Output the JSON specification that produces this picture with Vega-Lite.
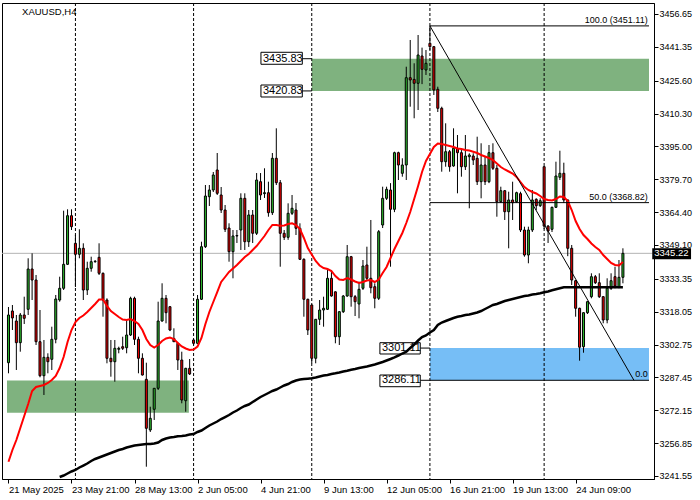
{
"$schema": "https://vega.github.io/schema/vega-lite/v6.json",
"width": 652, "height": 476,
"autosize": {"type": "none"},
"padding": {"left": 2, "top": 3, "right": 46, "bottom": 21},
"background": "white",
"config": {"view": {"stroke": "black", "strokeWidth": 1}, "font": "Liberation Sans",
  "axis": {"grid": false, "labelFont": "Liberation Sans", "labelColor": "black", "tickColor": "black", "domainColor": "black", "labelFlush": false, "labelOverlap": false}},
"datasets": {
"candles": [
{"i":0,"o":3294.30,"h":3320.23,"l":3289.36,"c":3316.51,"ma":3248.20},
{"i":1,"o":3318.37,"h":3321.16,"l":3309.52,"c":3315.11,"ma":3253.65},
{"i":2,"o":3313.71,"h":3316.51,"l":3290.90,"c":3303.61,"ma":3258.31},
{"i":3,"o":3303.61,"h":3317.44,"l":3299.42,"c":3316.51,"ma":3263.89},
{"i":4,"o":3316.51,"h":3325.03,"l":3312.32,"c":3314.97,"ma":3269.48},
{"i":5,"o":3319.16,"h":3342.91,"l":3316.51,"c":3337.92,"ma":3275.07},
{"i":6,"o":3337.92,"h":3345.23,"l":3323.49,"c":3332.80,"ma":3281.12},
{"i":7,"o":3332.80,"h":3335.13,"l":3302.54,"c":3304.07,"ma":3282.98},
{"i":8,"o":3304.07,"h":3318.83,"l":3287.50,"c":3288.24,"ma":3283.45},
{"i":9,"o":3288.24,"h":3304.87,"l":3279.26,"c":3296.81,"ma":3283.91},
{"i":10,"o":3296.81,"h":3298.67,"l":3289.36,"c":3294.76,"ma":3284.85},
{"i":11,"o":3295.88,"h":3311.06,"l":3290.90,"c":3305.19,"ma":3286.24},
{"i":12,"o":3305.19,"h":3325.82,"l":3303.33,"c":3323.96,"ma":3288.10},
{"i":13,"o":3323.49,"h":3334.34,"l":3322.70,"c":3328.94,"ma":3291.83,"mb":3241.08},
{"i":14,"o":3328.94,"h":3365.07,"l":3328.15,"c":3340.11,"ma":3296.95,"mb":3241.78},
{"i":15,"o":3340.11,"h":3365.72,"l":3339.79,"c":3362.74,"ma":3303.93,"mb":3242.71},
{"i":16,"o":3362.74,"h":3365.72,"l":3356.08,"c":3357.62,"ma":3309.52,"mb":3243.64},
{"i":17,"o":3349.89,"h":3353.75,"l":3329.54,"c":3344.77,"ma":3313.25,"mb":3244.34},
{"i":18,"o":3344.77,"h":3356.41,"l":3342.91,"c":3347.56,"ma":3315.11,"mb":3245.50},
{"i":19,"o":3347.56,"h":3349.89,"l":3323.49,"c":3328.15,"ma":3316.27,"mb":3246.43},
{"i":20,"o":3328.15,"h":3341.32,"l":3325.82,"c":3338.25,"ma":3317.90,"mb":3247.36},
{"i":21,"o":3338.25,"h":3343.65,"l":3336.67,"c":3341.32,"ma":3319.77,"mb":3248.53},
{"i":22,"o":3341.32,"h":3342.11,"l":3340.86,"c":3341.50,"ma":3321.63,"mb":3249.46},
{"i":23,"o":3343.37,"h":3349.89,"l":3335.13,"c":3335.92,"ma":3323.72,"mb":3250.16},
{"i":24,"o":3335.92,"h":3336.30,"l":3315.72,"c":3323.49,"ma":3323.72,"mb":3250.86},
{"i":25,"o":3323.49,"h":3324.28,"l":3294.02,"c":3296.35,"ma":3320.70,"mb":3251.55},
{"i":26,"o":3296.35,"h":3304.87,"l":3287.78,"c":3294.76,"ma":3318.37,"mb":3252.25},
{"i":27,"o":3294.76,"h":3304.87,"l":3285.45,"c":3301.00,"ma":3316.97,"mb":3252.95},
{"i":28,"o":3300.54,"h":3301.75,"l":3298.67,"c":3301.00,"ma":3315.57,"mb":3253.65},
{"i":29,"o":3301.75,"h":3306.40,"l":3300.21,"c":3301.00,"ma":3314.41,"mb":3254.12},
{"i":30,"o":3301.28,"h":3314.18,"l":3298.67,"c":3307.19,"ma":3314.18,"mb":3254.81},
{"i":31,"o":3307.19,"h":3325.03,"l":3306.73,"c":3324.28,"ma":3314.64,"mb":3255.28},
{"i":32,"o":3324.28,"h":3325.03,"l":3302.54,"c":3305.19,"ma":3313.71,"mb":3255.75},
{"i":33,"o":3305.19,"h":3306.40,"l":3289.36,"c":3296.35,"ma":3312.32,"mb":3255.98},
{"i":34,"o":3296.35,"h":3298.67,"l":3288.30,"c":3288.57,"ma":3309.52,"mb":3256.21},
{"i":35,"o":3286.57,"h":3294.30,"l":3245.87,"c":3263.75,"ma":3305.33,"mb":3256.44},
{"i":36,"o":3262.96,"h":3273.81,"l":3262.03,"c":3268.41,"ma":3302.54,"mb":3256.44},
{"i":37,"o":3272.60,"h":3282.50,"l":3267.62,"c":3282.38,"ma":3301.37,"mb":3256.68},
{"i":38,"o":3282.38,"h":3322.70,"l":3281.59,"c":3313.71,"ma":3302.54,"mb":3257.14},
{"i":39,"o":3313.71,"h":3331.27,"l":3313.39,"c":3324.28,"ma":3304.40,"mb":3258.31},
{"i":40,"o":3324.28,"h":3325.82,"l":3312.64,"c":3317.58,"ma":3305.56,"mb":3259.00},
{"i":41,"o":3320.37,"h":3320.60,"l":3309.00,"c":3309.52,"ma":3306.03,"mb":3259.47},
{"i":42,"o":3305.60,"h":3310.31,"l":3304.00,"c":3304.07,"ma":3305.33,"mb":3259.70},
{"i":43,"o":3303.33,"h":3303.60,"l":3290.90,"c":3295.55,"ma":3303.47,"mb":3260.03},
{"i":44,"o":3295.55,"h":3299.42,"l":3275.39,"c":3276.93,"ma":3301.84,"mb":3260.17},
{"i":45,"o":3276.60,"h":3291.90,"l":3271.48,"c":3291.69,"ma":3300.91,"mb":3260.40},
{"i":46,"o":3291.69,"h":3296.02,"l":3288.57,"c":3289.04,"ma":3300.21,"mb":3260.87},
{"i":47,"o":3304.87,"h":3305.10,"l":3302.54,"c":3303.33,"ma":3300.44,"mb":3261.10},
{"i":48,"o":3303.33,"h":3325.82,"l":3303.00,"c":3323.82,"ma":3301.84,"mb":3262.03},
{"i":49,"o":3323.82,"h":3350.63,"l":3323.49,"c":3348.31,"ma":3305.80,"mb":3262.73},
{"i":50,"o":3348.31,"h":3377.03,"l":3347.70,"c":3371.91,"ma":3312.32,"mb":3263.89},
{"i":51,"o":3371.59,"h":3377.03,"l":3367.26,"c":3374.71,"ma":3317.90,"mb":3265.06},
{"i":52,"o":3374.71,"h":3383.09,"l":3373.77,"c":3381.69,"ma":3322.56,"mb":3265.99},
{"i":53,"o":3384.02,"h":3391.93,"l":3372.38,"c":3373.17,"ma":3327.21,"mb":3266.92},
{"i":54,"o":3372.38,"h":3376.10,"l":3364.00,"c":3365.39,"ma":3331.87,"mb":3268.08},
{"i":55,"o":3365.39,"h":3367.72,"l":3355.15,"c":3356.41,"ma":3334.20,"mb":3269.01},
{"i":56,"o":3357.01,"h":3359.20,"l":3341.32,"c":3345.98,"ma":3336.53,"mb":3269.95},
{"i":57,"o":3345.98,"h":3356.08,"l":3333.59,"c":3353.29,"ma":3338.16,"mb":3271.11},
{"i":58,"o":3353.29,"h":3356.08,"l":3350.03,"c":3353.50,"ma":3339.79,"mb":3272.04},
{"i":59,"o":3356.08,"h":3373.17,"l":3346.77,"c":3370.84,"ma":3341.65,"mb":3273.21},
{"i":60,"o":3370.84,"h":3373.17,"l":3346.77,"c":3350.63,"ma":3343.51,"mb":3274.14},
{"i":61,"o":3350.63,"h":3365.39,"l":3348.20,"c":3363.07,"ma":3344.91,"mb":3274.83},
{"i":62,"o":3363.07,"h":3365.39,"l":3350.03,"c":3354.55,"ma":3346.77,"mb":3276.00},
{"i":63,"o":3354.55,"h":3382.60,"l":3353.75,"c":3379.36,"ma":3348.63,"mb":3277.16},
{"i":64,"o":3378.57,"h":3382.60,"l":3370.05,"c":3372.38,"ma":3350.96,"mb":3278.33},
{"i":65,"o":3373.00,"h":3384.81,"l":3371.00,"c":3373.45,"ma":3353.29,"mb":3279.26},
{"i":66,"o":3373.45,"h":3378.57,"l":3362.27,"c":3364.14,"ma":3356.08,"mb":3280.19},
{"i":67,"o":3364.14,"h":3391.93,"l":3363.07,"c":3389.47,"ma":3358.41,"mb":3281.12},
{"i":68,"o":3389.47,"h":3403.43,"l":3377.03,"c":3378.10,"ma":3358.41,"mb":3281.82},
{"i":69,"o":3378.10,"h":3379.36,"l":3338.99,"c":3354.55,"ma":3358.08,"mb":3282.75},
{"i":70,"o":3354.55,"h":3356.08,"l":3351.43,"c":3352.68,"ma":3358.18,"mb":3283.68},
{"i":71,"o":3352.68,"h":3368.50,"l":3351.50,"c":3363.86,"ma":3358.88,"mb":3284.38},
{"i":72,"o":3363.86,"h":3372.38,"l":3363.07,"c":3366.19,"ma":3359.20,"mb":3285.31},
{"i":73,"o":3365.39,"h":3368.65,"l":3353.75,"c":3356.87,"ma":3358.41,"mb":3286.01},
{"i":74,"o":3356.87,"h":3359.20,"l":3342.11,"c":3342.44,"ma":3356.55,"mb":3286.47},
{"i":75,"o":3342.44,"h":3342.91,"l":3315.72,"c":3323.82,"ma":3352.36,"mb":3286.71},
{"i":76,"o":3323.82,"h":3324.10,"l":3307.19,"c":3309.52,"ma":3347.70,"mb":3286.85},
{"i":77,"o":3321.16,"h":3321.40,"l":3294.02,"c":3296.35,"ma":3344.67,"mb":3287.03},
{"i":78,"o":3296.35,"h":3314.60,"l":3294.02,"c":3314.50,"ma":3341.65,"mb":3287.41},
{"i":79,"o":3314.50,"h":3323.49,"l":3311.85,"c":3318.83,"ma":3339.55,"mb":3287.87},
{"i":80,"o":3318.83,"h":3325.03,"l":3311.06,"c":3319.63,"ma":3338.39,"mb":3288.34},
{"i":81,"o":3319.16,"h":3337.46,"l":3318.83,"c":3333.59,"ma":3337.92,"mb":3288.57},
{"i":82,"o":3333.59,"h":3337.46,"l":3325.03,"c":3325.35,"ma":3336.99,"mb":3289.04},
{"i":83,"o":3327.30,"h":3327.50,"l":3303.33,"c":3306.40,"ma":3334.66,"mb":3289.36},
{"i":84,"o":3306.40,"h":3318.30,"l":3302.54,"c":3318.04,"ma":3333.03,"mb":3289.73},
{"i":85,"o":3318.04,"h":3325.82,"l":3317.44,"c":3325.35,"ma":3332.80,"mb":3290.20},
{"i":86,"o":3325.35,"h":3349.10,"l":3325.00,"c":3343.65,"ma":3333.73,"mb":3290.57},
{"i":87,"o":3343.65,"h":3344.00,"l":3320.37,"c":3325.03,"ma":3333.03,"mb":3291.04},
{"i":88,"o":3325.03,"h":3325.82,"l":3316.04,"c":3322.70,"ma":3332.10,"mb":3291.36},
{"i":89,"o":3321.63,"h":3332.00,"l":3314.97,"c":3328.47,"ma":3331.41,"mb":3291.83},
{"i":90,"o":3328.94,"h":3342.11,"l":3328.15,"c":3339.32,"ma":3331.87,"mb":3292.16},
{"i":91,"o":3339.79,"h":3348.31,"l":3332.80,"c":3333.59,"ma":3332.57,"mb":3292.53},
{"i":92,"o":3333.59,"h":3360.74,"l":3326.61,"c":3329.22,"ma":3332.80,"mb":3292.99},
{"i":93,"o":3329.68,"h":3331.27,"l":3319.63,"c":3324.28,"ma":3331.87,"mb":3293.46},
{"i":94,"o":3324.28,"h":3356.08,"l":3323.49,"c":3355.29,"ma":3333.03,"mb":3294.02},
{"i":95,"o":3358.41,"h":3376.24,"l":3357.01,"c":3370.84,"ma":3336.06,"mb":3294.62},
{"i":96,"o":3370.84,"h":3376.24,"l":3370.05,"c":3375.03,"ma":3338.85,"mb":3295.32},
{"i":97,"o":3374.71,"h":3377.90,"l":3338.99,"c":3365.72,"ma":3343.05,"mb":3296.02},
{"i":98,"o":3365.72,"h":3392.54,"l":3364.40,"c":3392.07,"ma":3347.24,"mb":3296.81},
{"i":99,"o":3392.07,"h":3392.54,"l":3379.36,"c":3386.35,"ma":3350.96,"mb":3297.65},
{"i":100,"o":3382.48,"h":3389.47,"l":3380.90,"c":3386.35,"ma":3354.69,"mb":3298.58},
{"i":101,"o":3386.35,"h":3432.11,"l":3379.36,"c":3426.99,"ma":3359.34,"mb":3299.42},
{"i":102,"o":3426.99,"h":3444.55,"l":3413.49,"c":3425.92,"ma":3364.46,"mb":3301.14},
{"i":103,"o":3426.20,"h":3433.70,"l":3408.09,"c":3424.39,"ma":3370.52,"mb":3302.77},
{"i":104,"o":3424.39,"h":3446.87,"l":3411.95,"c":3437.56,"ma":3376.57,"mb":3304.63},
{"i":105,"o":3437.10,"h":3441.00,"l":3424.00,"c":3430.90,"ma":3383.09,"mb":3306.26},
{"i":106,"o":3430.58,"h":3439.89,"l":3428.25,"c":3433.70,"ma":3388.21,"mb":3306.96},
{"i":107,"o":3443.01,"h":3451.11,"l":3439.89,"c":3441.43,"ma":3391.47,"mb":3308.36},
{"i":108,"o":3441.43,"h":3441.75,"l":3418.94,"c":3421.27,"ma":3394.73,"mb":3309.52},
{"i":109,"o":3421.59,"h":3422.80,"l":3411.02,"c":3412.75,"ma":3396.36,"mb":3311.85},
{"i":110,"o":3412.75,"h":3413.49,"l":3383.23,"c":3387.88,"ma":3396.12,"mb":3313.01},
{"i":111,"o":3387.88,"h":3405.76,"l":3385.55,"c":3392.54,"ma":3395.66,"mb":3313.71},
{"i":112,"o":3392.54,"h":3393.33,"l":3383.23,"c":3385.55,"ma":3395.19,"mb":3314.41},
{"i":113,"o":3385.88,"h":3403.43,"l":3385.55,"c":3394.12,"ma":3394.73,"mb":3315.11},
{"i":114,"o":3394.12,"h":3400.31,"l":3373.17,"c":3392.07,"ma":3394.03,"mb":3315.67},
{"i":115,"o":3392.07,"h":3393.33,"l":3380.90,"c":3385.55,"ma":3393.80,"mb":3316.04},
{"i":116,"o":3385.55,"h":3400.31,"l":3384.02,"c":3390.54,"ma":3393.33,"mb":3316.51},
{"i":117,"o":3390.21,"h":3391.79,"l":3366.19,"c":3391.00,"ma":3393.10,"mb":3316.74},
{"i":118,"o":3390.54,"h":3391.79,"l":3386.35,"c":3388.67,"ma":3392.54,"mb":3317.20},
{"i":119,"o":3389.47,"h":3399.52,"l":3377.03,"c":3378.57,"ma":3391.93,"mb":3317.67},
{"i":120,"o":3378.57,"h":3396.45,"l":3370.84,"c":3386.35,"ma":3391.00,"mb":3318.37},
{"i":121,"o":3386.35,"h":3390.21,"l":3377.03,"c":3378.57,"ma":3390.30,"mb":3319.30},
{"i":122,"o":3378.57,"h":3395.66,"l":3377.90,"c":3392.07,"ma":3389.61,"mb":3320.23},
{"i":123,"o":3392.07,"h":3396.45,"l":3384.02,"c":3384.81,"ma":3388.67,"mb":3321.16},
{"i":124,"o":3384.81,"h":3386.35,"l":3362.27,"c":3369.26,"ma":3387.04,"mb":3321.63},
{"i":125,"o":3369.26,"h":3376.24,"l":3368.65,"c":3374.38,"ma":3385.41,"mb":3322.33},
{"i":126,"o":3374.38,"h":3374.71,"l":3360.74,"c":3364.60,"ma":3384.25,"mb":3323.02},
{"i":127,"o":3364.60,"h":3373.91,"l":3347.56,"c":3370.05,"ma":3383.32,"mb":3323.49},
{"i":128,"o":3370.05,"h":3378.57,"l":3360.74,"c":3368.79,"ma":3382.39,"mb":3323.96},
{"i":129,"o":3369.26,"h":3373.91,"l":3368.65,"c":3373.45,"ma":3380.76,"mb":3324.42},
{"i":130,"o":3373.00,"h":3373.91,"l":3355.15,"c":3356.08,"ma":3378.43,"mb":3324.89},
{"i":131,"o":3356.08,"h":3357.62,"l":3343.65,"c":3344.44,"ma":3376.10,"mb":3325.35},
{"i":132,"o":3344.44,"h":3357.62,"l":3340.58,"c":3356.08,"ma":3374.71,"mb":3325.59},
{"i":133,"o":3356.08,"h":3374.71,"l":3355.15,"c":3370.05,"ma":3373.77,"mb":3326.05},
{"i":134,"o":3370.38,"h":3370.84,"l":3365.39,"c":3367.40,"ma":3373.08,"mb":3326.28},
{"i":135,"o":3367.40,"h":3370.84,"l":3366.79,"c":3369.72,"ma":3371.91,"mb":3326.61},
{"i":136,"o":3385.55,"h":3385.80,"l":3356.50,"c":3357.90,"ma":3370.52,"mb":3327.08},
{"i":137,"o":3357.90,"h":3358.40,"l":3350.03,"c":3355.60,"ma":3370.05,"mb":3327.45},
{"i":138,"o":3356.41,"h":3366.93,"l":3355.15,"c":3366.65,"ma":3369.82,"mb":3328.01},
{"i":139,"o":3366.65,"h":3387.88,"l":3366.33,"c":3381.22,"ma":3370.52,"mb":3328.47},
{"i":140,"o":3380.62,"h":3393.00,"l":3379.36,"c":3382.48,"ma":3371.68,"mb":3328.94},
{"i":141,"o":3382.48,"h":3387.42,"l":3368.65,"c":3370.05,"ma":3371.45,"mb":3329.40},
{"i":142,"o":3370.05,"h":3370.30,"l":3343.90,"c":3347.56,"ma":3369.58,"mb":3329.40},
{"i":143,"o":3347.56,"h":3349.10,"l":3330.47,"c":3332.80,"ma":3365.39,"mb":3329.40},
{"i":144,"o":3332.48,"h":3332.80,"l":3315.72,"c":3319.63,"ma":3360.27,"mb":3329.40},
{"i":145,"o":3319.63,"h":3319.90,"l":3295.23,"c":3301.50,"ma":3356.55,"mb":3329.40},
{"i":146,"o":3301.75,"h":3317.80,"l":3298.95,"c":3317.58,"ma":3353.75,"mb":3329.40},
{"i":147,"o":3317.58,"h":3322.90,"l":3316.97,"c":3322.70,"ma":3351.89,"mb":3329.40},
{"i":148,"o":3325.03,"h":3335.92,"l":3324.28,"c":3334.34,"ma":3349.80,"mb":3329.40},
{"i":149,"o":3334.34,"h":3335.13,"l":3330.94,"c":3331.54,"ma":3348.17,"mb":3329.40},
{"i":150,"o":3331.54,"h":3335.92,"l":3324.42,"c":3325.03,"ma":3346.77,"mb":3329.40},
{"i":151,"o":3325.03,"h":3325.30,"l":3312.64,"c":3314.18,"ma":3344.44,"mb":3329.40},
{"i":152,"o":3314.18,"h":3333.59,"l":3312.64,"c":3328.94,"ma":3342.58,"mb":3329.40},
{"i":153,"o":3328.94,"h":3335.92,"l":3328.15,"c":3332.48,"ma":3340.72,"mb":3329.40},
{"i":154,"o":3334.34,"h":3338.99,"l":3328.94,"c":3330.01,"ma":3339.79,"mb":3329.40},
{"i":155,"o":3329.68,"h":3342.11,"l":3328.94,"c":3334.06,"ma":3339.55,"mb":3329.40},
{"i":156,"o":3334.06,"h":3347.56,"l":3331.27,"c":3345.22,"ma":3341.18,"mb":3329.40}
],
"zones": [
{"zone":"demand","i":-0.375,"i2":45.8,"p":3271.0,"p2":3286.0},
{"zone":"demand","i":77,"i2":162.625,"p":3420.83,"p2":3435.83},
{"zone":"target","i":107,"i2":162.625,"p":3286.11,"p2":3301.11}
],
"weeks": [{"i":17},{"i":47},{"i":77},{"i":107},{"i":136}],
"fib": [
{"i":107,"i2":162.625,"p":3451.11,"p2":3451.11},
{"i":107,"i2":162.625,"p":3368.82,"p2":3368.82},
{"i":107,"i2":162.625,"p":3286.11,"p2":3286.11}
],
"fibtrend": [{"i":107,"i2":158.8,"p":3451.11,"p2":3286.11}],
"fibtext": [
{"t":"100.0 (3451.11)","i":162.3,"v":3451.11},
{"t":"50.0 (3368.82)","i":162.3,"v":3368.82},
{"t":"0.0","i":162.3,"v":3286.11}
],
"connectors": [
{"i":74.6,"i2":77,"v":3435.83},
{"i":74.6,"i2":77,"v":3420.83},
{"i":104.55,"i2":107,"v":3301.11},
{"i":104.55,"i2":107,"v":3286.11}
],
"pricelabels": [
{"t":"3435.83","v":3435.83,"i":64.1,"i2":74.6,"lo":3433.24,"hi":3438.82},
{"t":"3420.83","v":3420.83,"i":64.1,"i2":74.6,"lo":3418.01,"hi":3423.59},
{"t":"3301.11","v":3301.11,"i":94.3,"i2":104.55,"lo":3298.35,"hi":3303.61},
{"t":"3286.11","v":3286.11,"i":94.3,"i2":104.55,"lo":3283.12,"hi":3288.57}
],
"bid": [{"t":"3345.22","v":3345.22,"i":163.45,"i2":173.3,"lo":3342.44,"hi":3347.56}],
"symbol": [{"t":"XAUUSD,H4","i":3.45,"v":3457.7}]
},
"layer": [
{"data":{"name":"zones"},"mark":{"type":"rect"},
 "encoding":{
  "x":{"field":"i","type":"quantitative","title":null,"scale":{"domain":[-0.375,162.625],"nice":false,"zero":false},
   "axis":{"orient":"bottom","values":[0,16,32,48,64,80,96,112,128,144],"tickCount":30,
    "labelExpr":"['21 May 2025','23 May 21:00','28 May 13:00','2 Jun 05:00','4 Jun 21:00','9 Jun 13:00','12 Jun 05:00','16 Jun 21:00','19 Jun 13:00','24 Jun 09:00'][round(datum.value/16)]",
    "labelAlign":"left","labelBaseline":"top","labelPadding":1,"labelFontSize":9.5,"labelFont":"Liberation Sans","labelColor":"black",
    "tickColor":"black","tickSize":4,"domainColor":"black","grid":false,"title":null,"labelFlush":false,"labelOverlap":false,"labelBound":false}},
  "x2":{"field":"i2"},
  "y":{"field":"p","type":"quantitative","title":null,"scale":{"domain":[3240.15,3461.77],"nice":false,"zero":false},
   "axis":{"orient":"right","values":[3241.55,3256.85,3272.15,3287.45,3302.75,3318.05,3333.35,3349.10,3364.40,3379.70,3395.00,3410.30,3425.60,3441.35,3456.65],"tickCount":30,
    "format":".2f","labelFontSize":9,"labelFont":"Liberation Sans","labelColor":"black","labelPadding":1,"labelBaseline":"middle",
    "tickColor":"black","tickSize":4,"domainColor":"black","grid":false,"title":null,"labelFlush":false,"labelOverlap":false,"labelBound":false}},
  "y2":{"field":"p2"},
  "color":{"field":"zone","type":"nominal","scale":{"domain":["demand","target"],"range":["#7FB27F","#76BEF6"]},"legend":null}}},
{"data":{"name":"bid"},"mark":{"type":"rule","color":"#B4B4B4","strokeWidth":1},
 "encoding":{"y":{"field":"v","type":"quantitative","title":null,"scale":{"domain":[3240.15,3461.77],"nice":false,"zero":false}}}},
{"data":{"name":"weeks"},"mark":{"type":"rule","color":"black","strokeWidth":1,"strokeDash":[3,2]},
 "encoding":{"x":{"field":"i","type":"quantitative","title":null,"scale":{"domain":[-0.375,162.625],"nice":false,"zero":false}}}},
{"data":{"name":"connectors"},"mark":{"type":"rule","color":"black","strokeWidth":1},
 "encoding":{
  "x":{"field":"i","type":"quantitative","title":null,"scale":{"domain":[-0.375,162.625],"nice":false,"zero":false}},
  "x2":{"field":"i2"},
  "y":{"field":"v","type":"quantitative","title":null,"scale":{"domain":[3240.15,3461.77],"nice":false,"zero":false}}}},
{"data":{"name":"pricelabels"},"mark":{"type":"rect","fill":"white","stroke":"black","strokeWidth":1},
 "encoding":{
  "x":{"field":"i","type":"quantitative","title":null,"scale":{"domain":[-0.375,162.625],"nice":false,"zero":false}},
  "x2":{"field":"i2"},
  "y":{"field":"lo","type":"quantitative","title":null,"scale":{"domain":[3240.15,3461.77],"nice":false,"zero":false}},
  "y2":{"field":"hi"}}},
{"data":{"name":"pricelabels"},"mark":{"type":"text","align":"left","baseline":"middle","dx":2,"fontSize":11,"font":"Liberation Sans","color":"black"},
 "encoding":{
  "x":{"field":"i","type":"quantitative","title":null,"scale":{"domain":[-0.375,162.625],"nice":false,"zero":false}},
  "y":{"field":"v","type":"quantitative","title":null,"scale":{"domain":[3240.15,3461.77],"nice":false,"zero":false}},
  "text":{"field":"t"}}},
{"data":{"name":"candles"},"mark":{"type":"rule","color":"black","strokeWidth":1},
 "encoding":{
  "x":{"field":"i","type":"quantitative","title":null,"scale":{"domain":[-0.375,162.625],"nice":false,"zero":false}},
  "y":{"field":"l","type":"quantitative","title":null,"scale":{"domain":[3240.15,3461.77],"nice":false,"zero":false}},
  "y2":{"field":"h"}}},
{"data":{"name":"candles"},"mark":{"type":"bar","width":2,"stroke":"black","strokeWidth":1},
 "encoding":{
  "x":{"field":"i","type":"quantitative","title":null,"scale":{"domain":[-0.375,162.625],"nice":false,"zero":false}},
  "y":{"field":"o","type":"quantitative","title":null,"scale":{"domain":[3240.15,3461.77],"nice":false,"zero":false}},
  "y2":{"field":"c"},
  "fill":{"condition":{"test":"datum.c >= datum.o","value":"#2DB82D"},"value":"#F00000"}}},
{"data":{"name":"candles"},"mark":{"type":"line","color":"#FF0000","strokeWidth":2},
 "encoding":{
  "x":{"field":"i","type":"quantitative","title":null,"scale":{"domain":[-0.375,162.625],"nice":false,"zero":false}},
  "y":{"field":"ma","type":"quantitative","title":null,"scale":{"domain":[3240.15,3461.77],"nice":false,"zero":false}}}},
{"data":{"name":"candles"},"transform":[{"filter":"isValid(datum.mb)"}],"mark":{"type":"line","color":"black","strokeWidth":2.5},
 "encoding":{
  "x":{"field":"i","type":"quantitative","title":null,"scale":{"domain":[-0.375,162.625],"nice":false,"zero":false}},
  "y":{"field":"mb","type":"quantitative","title":null,"scale":{"domain":[3240.15,3461.77],"nice":false,"zero":false}}}},
{"data":{"name":"fib"},"mark":{"type":"rule","color":"black","strokeWidth":1},
 "encoding":{
  "x":{"field":"i","type":"quantitative","title":null,"scale":{"domain":[-0.375,162.625],"nice":false,"zero":false}},
  "x2":{"field":"i2"},
  "y":{"field":"p","type":"quantitative","title":null,"scale":{"domain":[3240.15,3461.77],"nice":false,"zero":false}},
  "y2":{"field":"p2"}}},
{"data":{"name":"fibtrend"},"mark":{"type":"rule","color":"black","strokeWidth":1},
 "encoding":{
  "x":{"field":"i","type":"quantitative","title":null,"scale":{"domain":[-0.375,162.625],"nice":false,"zero":false}},
  "x2":{"field":"i2"},
  "y":{"field":"p","type":"quantitative","title":null,"scale":{"domain":[3240.15,3461.77],"nice":false,"zero":false}},
  "y2":{"field":"p2"}}},
{"data":{"name":"fibtext"},"mark":{"type":"text","align":"right","baseline":"bottom","dy":-1,"fontSize":9,"font":"Liberation Sans","color":"black"},
 "encoding":{
  "x":{"field":"i","type":"quantitative","title":null,"scale":{"domain":[-0.375,162.625],"nice":false,"zero":false}},
  "y":{"field":"v","type":"quantitative","title":null,"scale":{"domain":[3240.15,3461.77],"nice":false,"zero":false}},
  "text":{"field":"t"}}},
{"data":{"name":"bid"},"mark":{"type":"rect","fill":"black"},
 "encoding":{
  "x":{"field":"i","type":"quantitative","title":null,"scale":{"domain":[-0.375,162.625],"nice":false,"zero":false}},
  "x2":{"field":"i2"},
  "y":{"field":"lo","type":"quantitative","title":null,"scale":{"domain":[3240.15,3461.77],"nice":false,"zero":false}},
  "y2":{"field":"hi"}}},
{"data":{"name":"bid"},"mark":{"type":"text","align":"left","baseline":"middle","dx":2,"fontSize":9.5,"font":"Liberation Sans","color":"white"},
 "encoding":{
  "x":{"field":"i","type":"quantitative","title":null,"scale":{"domain":[-0.375,162.625],"nice":false,"zero":false}},
  "y":{"field":"v","type":"quantitative","title":null,"scale":{"domain":[3240.15,3461.77],"nice":false,"zero":false}},
  "text":{"field":"t"}}},
{"data":{"name":"symbol"},"mark":{"type":"text","align":"left","baseline":"middle","fontSize":9.5,"font":"Liberation Sans","color":"black"},
 "encoding":{
  "x":{"field":"i","type":"quantitative","title":null,"scale":{"domain":[-0.375,162.625],"nice":false,"zero":false}},
  "y":{"field":"v","type":"quantitative","title":null,"scale":{"domain":[3240.15,3461.77],"nice":false,"zero":false}},
  "text":{"field":"t"}}}
]
}
